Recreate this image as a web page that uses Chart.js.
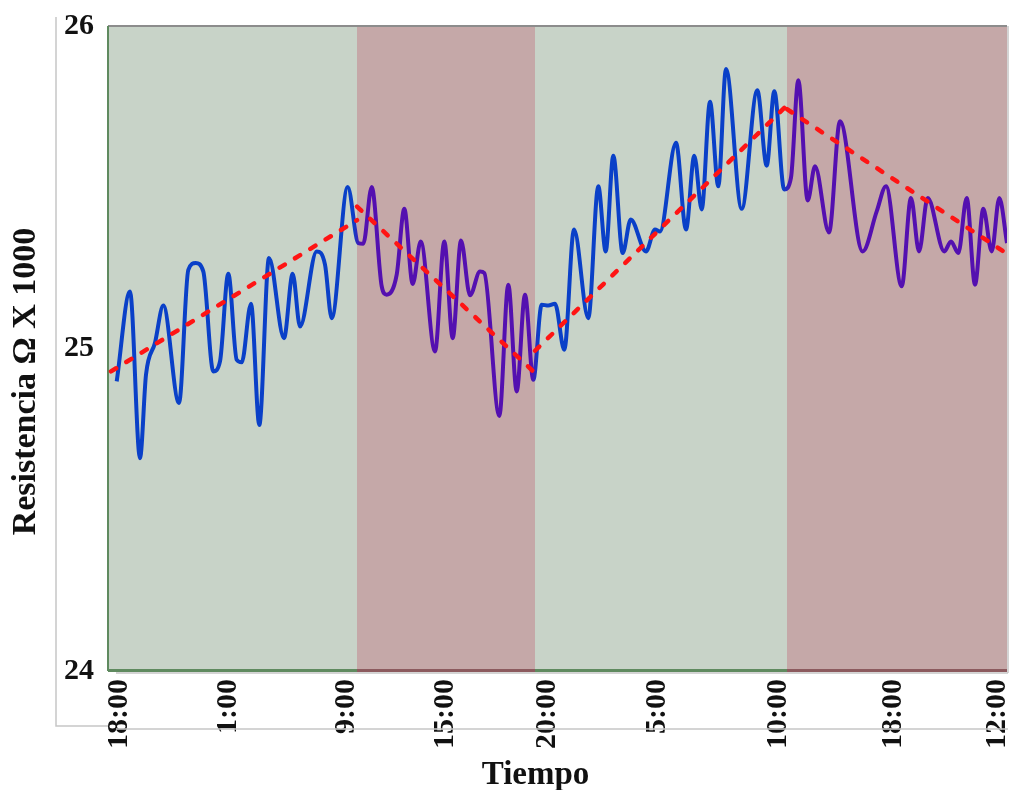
<!DOCTYPE html>
<html>
<head>
<meta charset="utf-8">
<script src="https://cdn.jsdelivr.net/npm/chart.js@4"></script>
<style>
  body { margin: 0; background: #fff; }
</style>
</head>
<body>
<canvas id="resChart" width="1010" height="790"></canvas>
<script>
// tiempo de muestreo (unidades del eje x) y resistencia medida (Ω x 1000)
const tiempo = [8.7, 22, 32, 38, 47, 55.3, 71, 80.3, 87.7, 95.3, 105.3, 112, 120.3, 128.7, 133.7, 143, 151.3, 161, 176, 184.7,
  192, 208.7, 217, 223.7, 239.7, 250.3, 255.3, 263.7, 273.7, 278.7, 288.7, 296.3, 304.7, 312.7, 327, 336.3, 344.7, 353, 362, 372,
  376.3, 391.3, 400.3, 408.7, 417, 425.3, 433.7, 440.3, 447, 456.3, 466, 480.3, 490.3, 497.7, 505.3, 514.7, 522.7, 538, 547, 552,
  568, 578, 586.3, 593.7, 602, 610.3, 618, 633.7, 649.3, 658.7, 666.3, 676.2, 683, 690.3, 699.7, 707, 721, 732, 754.7, 768.7,
  778, 793.7, 803, 811, 819.7, 836.3, 843, 850.3, 858.7, 867, 875.3, 883.7, 891.3, 899];
const resistencia = [24.898, 25.177, 24.660, 24.919, 25.018, 25.133, 24.831, 25.244, 25.265, 25.239, 24.929, 24.960, 25.232, 24.965, 24.957, 25.139, 24.763, 25.281, 25.032, 25.232,
  25.068, 25.301, 25.260, 25.094, 25.501, 25.327, 25.325, 25.501, 25.193, 25.167, 25.229, 25.433, 25.200, 25.332, 24.991, 25.332, 25.032, 25.335, 25.165, 25.239,
  25.234, 24.791, 25.198, 24.867, 25.167, 24.903, 25.136, 25.133, 25.139, 24.996, 25.369, 25.094, 25.503, 25.301, 25.598, 25.296, 25.400, 25.301, 25.369, 25.363,
  25.638, 25.369, 25.598, 25.431, 25.765, 25.503, 25.867, 25.433, 25.801, 25.567, 25.798, 25.493, 25.530, 25.832, 25.459, 25.565, 25.360, 25.705, 25.301, 25.425,
  25.503, 25.193, 25.467, 25.301, 25.467, 25.301, 25.332, 25.296, 25.467, 25.198, 25.433, 25.301, 25.467, 25.327];

// líneas de tendencia por tramo (inicio, fin)
const tendX = [[3, 249], [249, 427], [427, 679], [679, 899]];
const tendY = [[24.929, 25.398], [25.440, 24.924], [24.993, 25.754], [25.742, 25.294]];

// tramos de fondo (día / noche) y marcas del eje x
const tramos = [0, 249, 427, 679, 899];
const marcasX = [11.5, 120, 238, 337, 439, 549, 670, 785, 889];
const etiquetasX = ['18:00', '1:00', '9:00', '15:00', '20:00', '5:00', '10:00', '18:00', '12:00'];

const fondoColor = ['#c8d3c8', '#c5a8a8'];
const bordeColor = ['#5f8a5f', '#8c5a5e'];
const lineaColor = ['#0a40c8', '#5410b0'];
const serif = '"Liberation Serif", "Times New Roman", serif';

const fondo = {
  id: 'fondo',
  beforeDatasetsDraw(chart) {
    const {ctx, chartArea: a, scales: {x}} = chart;
    ctx.save();
    for (let i = 0; i < tramos.length - 1; i++) {
      const x0 = x.getPixelForValue(tramos[i]);
      const x1 = x.getPixelForValue(tramos[i + 1]);
      ctx.fillStyle = fondoColor[i % 2];
      ctx.fillRect(x0, a.top, x1 - x0, a.bottom - a.top);
      ctx.fillStyle = bordeColor[i % 2];
      ctx.fillRect(x0, a.bottom - 2, x1 - x0, 3);
    }
    ctx.fillStyle = '#8c8c8c';
    ctx.fillRect(a.left, a.top - 1, a.right - a.left, 2);
    ctx.fillStyle = '#5f8a5f';
    ctx.fillRect(a.left - 1, a.top, 2, a.bottom - a.top);
    ctx.strokeStyle = '#c6c6c6';
    ctx.lineWidth = 1.5;
    ctx.beginPath();
    ctx.moveTo(a.left - 52, a.top - 9);
    ctx.lineTo(a.left - 52, a.bottom + 55);
    ctx.lineTo(a.left, a.bottom + 55);
    ctx.moveTo(a.left + 8, a.bottom + 2);
    ctx.lineTo(a.right + 1, a.bottom + 2);
    ctx.moveTo(a.left + 8, a.bottom + 58);
    ctx.lineTo(a.right + 1, a.bottom + 58);
    ctx.moveTo(a.right + 1, a.top);
    ctx.lineTo(a.right + 1, a.bottom + 2);
    ctx.stroke();
    ctx.restore();
  },
  afterDraw(chart) {
    const {ctx, chartArea: a} = chart;
    ctx.save();
    ctx.fillStyle = '#111';
    ctx.font = 'bold 33px ' + serif;
    ctx.textAlign = 'center';
    ctx.textBaseline = 'middle';
    ctx.fillText('Tiempo', (a.left + a.right) / 2 - 22, a.bottom + 104);
    ctx.translate(a.left - 82, (a.top + a.bottom) / 2 + 33);
    ctx.rotate(-Math.PI / 2);
    ctx.font = 'bold 34px ' + serif;
    ctx.fillText('Resistencia Ω X 1000', 0, 0);
    ctx.restore();
  }
};

function degradado(context) {
  const chart = context.chart;
  const a = chart.chartArea;
  if (!a) return lineaColor[0];
  const x = chart.scales.x;
  const g = chart.ctx.createLinearGradient(a.left, 0, a.right, 0);
  const w = a.right - a.left;
  for (let i = 0; i < tramos.length - 1; i++) {
    const f0 = Math.min(1, Math.max(0, (x.getPixelForValue(tramos[i]) - a.left) / w + 0.004));
    const f1 = Math.min(1, Math.max(0, (x.getPixelForValue(tramos[i + 1]) - a.left) / w - 0.004));
    g.addColorStop(f0, lineaColor[i % 2]);
    g.addColorStop(f1, lineaColor[i % 2]);
  }
  return g;
}

const datasets = tendX.map((tx, i) => ({
  data: tx.map((v, j) => ({x: v, y: tendY[i][j]})),
  borderColor: '#ff1414',
  borderWidth: 4.5,
  borderDash: [6, 12],
  borderCapStyle: 'round',
  pointRadius: 0,
  tension: 0
}));
datasets.push({
  data: tiempo.map((t, i) => ({x: t, y: resistencia[i]})),
  borderColor: degradado,
  borderWidth: 4,
  pointRadius: 0,
  tension: 0.4,
  cubicInterpolationMode: 'monotone'
});

new Chart(document.getElementById('resChart'), {
  type: 'line',
  data: { datasets },
  plugins: [fondo],
  options: {
    responsive: false,
    animation: false,
    layout: { padding: { top: 26, right: 3, left: 0, bottom: 0 } },
    plugins: { legend: { display: false }, tooltip: { enabled: false } },
    scales: {
      x: {
        type: 'linear',
        min: 0,
        max: 899,
        grid: { display: false },
        border: { display: false },
        afterBuildTicks: s => { s.ticks = marcasX.map(v => ({ value: v })); },
        afterFit: s => { s.height = 119; s.paddingLeft = 0; s.paddingRight = 0; },
        ticks: {
          autoSkip: false,
          minRotation: 90,
          maxRotation: 90,
          padding: 0,
          color: '#111',
          font: { family: serif, size: 30, weight: 'bold' },
          callback: (v, i) => etiquetasX[i]
        }
      },
      y: {
        min: 24,
        max: 26,
        grid: { display: false },
        border: { display: false },
        afterFit: s => { s.width = 108; s.paddingTop = 0; s.paddingBottom = 0; },
        ticks: {
          stepSize: 1,
          padding: 6,
          color: '#111',
          font: { family: serif, size: 30, weight: 'bold' }
        }
      }
    }
  }
});
</script>
</body>
</html>
